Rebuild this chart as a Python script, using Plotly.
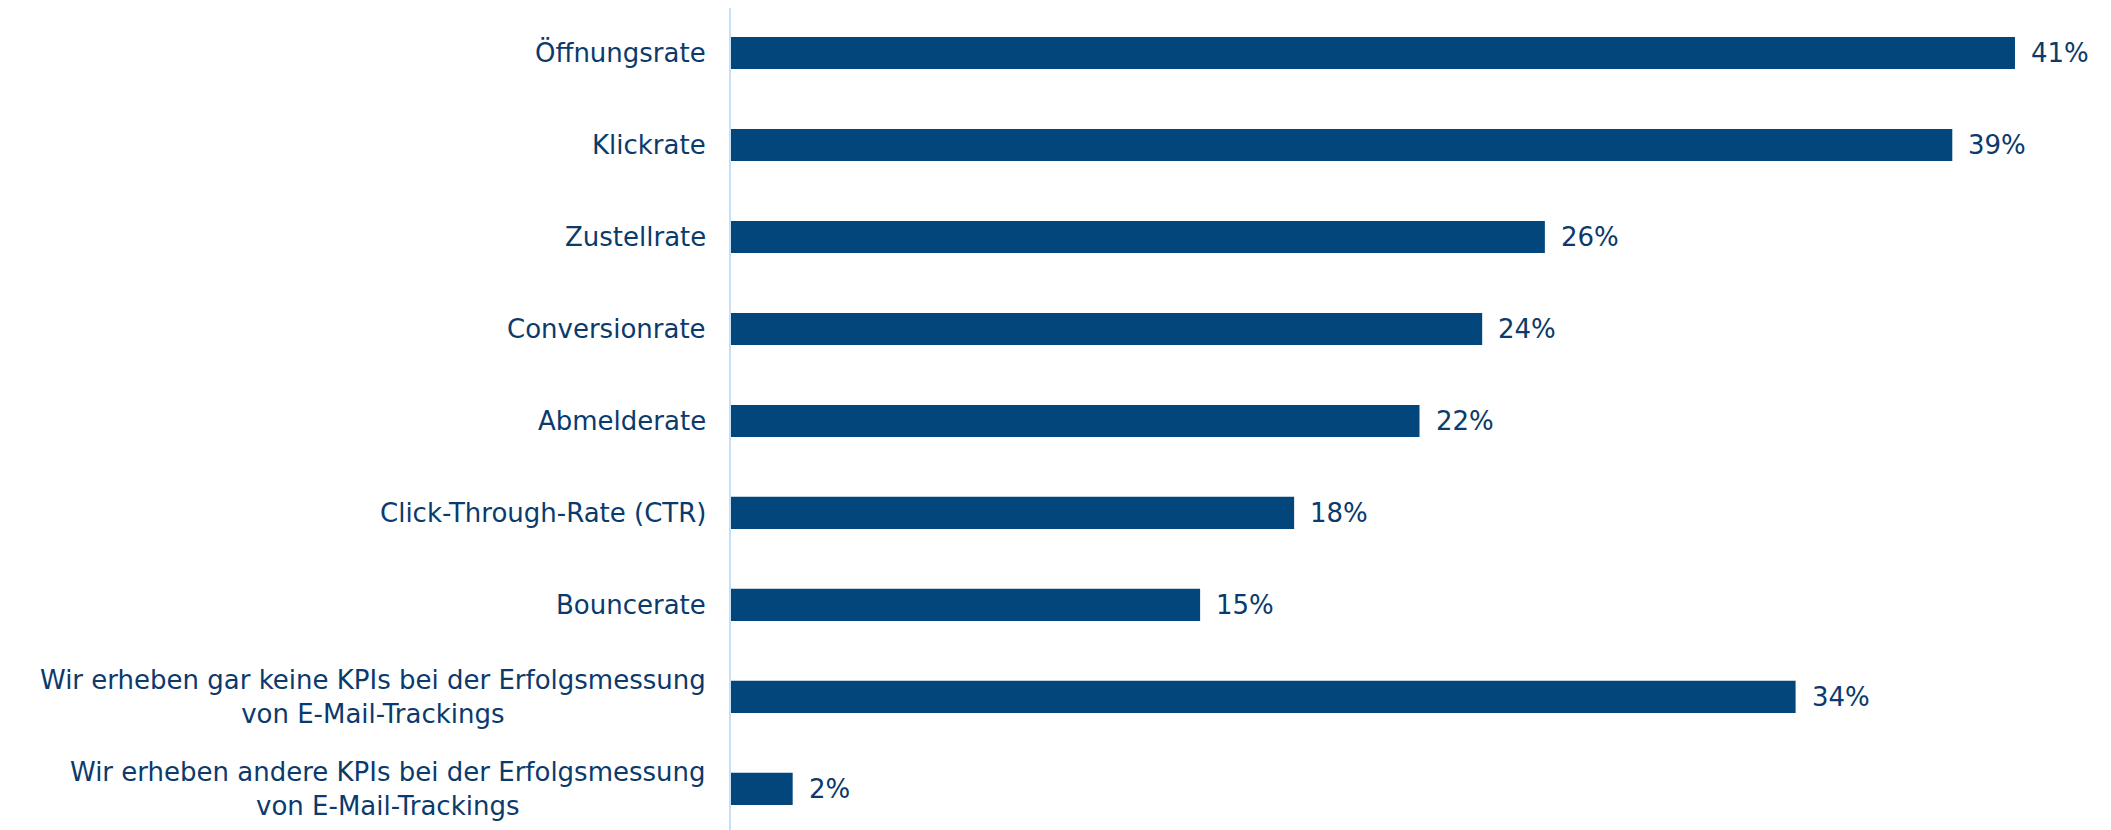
import plotly.graph_objects as go

categories = [
    "Öffnungsrate",
    "Klickrate",
    "Zustellrate",
    "Conversionrate",
    "Abmelderate",
    "Click-Through-Rate (CTR)",
    "Bouncerate",
    "Wir erheben gar keine KPIs bei der Erfolgsmessung<br>von E-Mail-Trackings",
    "Wir erheben andere KPIs bei der Erfolgsmessung<br>von E-Mail-Trackings",
]
values = [41, 39, 26, 24, 22, 18, 15, 34, 2]
value_labels = [f"{v}%" for v in values]

BAR = "#03467b"
TXT = "#0b3a6c"
FONT = "DejaVu Sans, Verdana, sans-serif"
FS = 26

ypos = list(range(len(categories)))

fig = go.Figure(
    go.Bar(
        x=values,
        y=ypos,
        orientation="h",
        width=0.35,
        marker=dict(color=BAR, line=dict(width=0)),
        hoverinfo="skip",
    )
)

annotations = []
for i, (cat, v, lab) in enumerate(zip(categories, values, value_labels)):
    annotations.append(dict(
        x=0, y=i, xref="paper", yref="y", text=cat, showarrow=False,
        xanchor="right", yanchor="middle", align="center", xshift=-22,
        font=dict(family=FONT, size=FS, color=TXT),
    ))
    annotations.append(dict(
        x=v, y=i, xref="x", yref="y", text=lab, showarrow=False,
        xanchor="left", yanchor="middle", xshift=14,
        font=dict(family=FONT, size=FS, color=TXT),
    ))

L = 722
fig.update_layout(
    width=2111,
    height=830,
    margin=dict(l=L, r=2111 - L - int(round(31.33 * 44)), t=0, b=0),
    paper_bgcolor="white",
    plot_bgcolor="white",
    showlegend=False,
    annotations=annotations,
    xaxis=dict(range=[0, 44], visible=False, fixedrange=True),
    yaxis=dict(
        range=[8.533, -0.489],
        showticklabels=False,
        showgrid=False,
        zeroline=False,
        showline=False,
        ticks="",
        fixedrange=True,
    ),
    shapes=[dict(type="line", xref="paper", yref="paper", x0=0, x1=0, y0=0, y1=1,
                 line=dict(color="#c6e0f7", width=2))],
)

fig.write_html("out.html")
